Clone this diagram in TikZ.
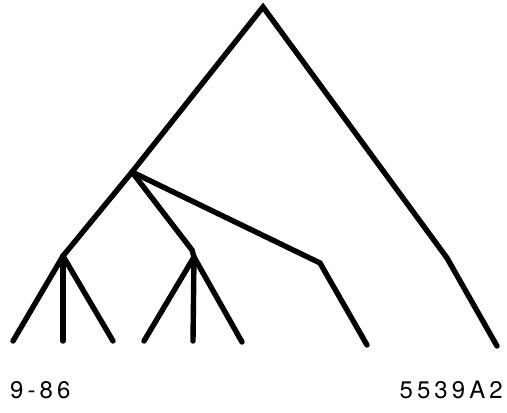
\documentclass[tikz,border=0pt]{standalone}
\usepackage{fontspec}
\setmainfont{TeX Gyre Heros}
\newfontfamily\labfont[LetterSpace=17]{TeX Gyre Heros}
\begin{document}
\begin{tikzpicture}[x=1pt,y=-1pt,
  branch/.style={line width=5.4pt,line cap=round,line join=miter},
  lab/.style={inner sep=0pt,font=\labfont\fontsize{24}{24}\selectfont}]
\useasboundingbox (0,0) rectangle (507,413);
\coordinate (A) at (263,7);
\coordinate (B) at (132,172);
\coordinate (C) at (63,256);
\coordinate (D) at (194,257);
\coordinate (Dk) at (192,250);
\coordinate (E) at (320,263);
\coordinate (F) at (447,258);
\coordinate (l1) at (13,341);
\coordinate (l2) at (63,341);
\coordinate (l3) at (113,341);
\coordinate (l4) at (144,341);
\coordinate (l5) at (193,341);
\coordinate (l6) at (242,342);
\coordinate (l7) at (367,345);
\coordinate (l8) at (497,346);
\draw[branch] (l1) -- (C) -- (B) -- (A) -- (F) -- (l8);
\draw[branch] (C) -- (l2);
\draw[branch] (C) -- (l3);
\draw[branch] (B) -- (Dk) -- (D) -- (l4);
\draw[branch] (D) -- (l5);
\draw[branch] (D) -- (l6);
\draw[branch] (B) -- (E) -- (l7);
\node[lab,anchor=base west] (t1) at (10,398) {9-86};
\node[lab,anchor=base east] (t2) at (503,398) {5539A2};
\end{tikzpicture}
\end{document}
